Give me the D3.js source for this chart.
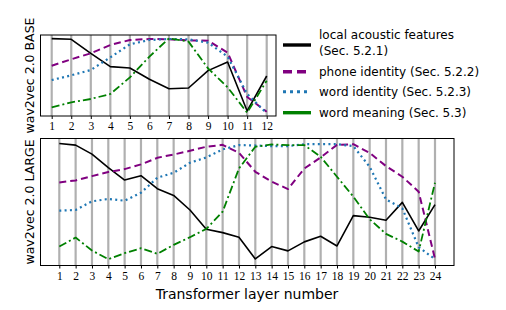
<!DOCTYPE html>
<html>
<head>
<meta charset="utf-8">
<script src="https://cdn.jsdelivr.net/npm/d3@7"></script>
<style>
  body { margin: 0; background: #fff; }
  .tick text { font-family: "Liberation Serif", "DejaVu Serif", serif; font-size: 11.5px; fill: #000; }
  .lab { font-family: "DejaVu Sans", sans-serif; fill: #000; }
</style>
</head>
<body>
<div id="chart"></div>
<script>
// layers
var baseLayers = d3.range(1, 13);
var largeLayers = d3.range(1, 25);

// BASE model (normalized scores)
var baseAcoustic = [0.955, 0.947, 0.774, 0.609, 0.593, 0.453, 0.337, 0.346, 0.560, 0.667, 0.062, 0.494];
var basePhone    = [0.621, 0.700, 0.774, 0.877, 0.938, 0.951, 0.947, 0.934, 0.930, 0.782, 0.235, 0.053];
var baseWord     = [0.444, 0.502, 0.568, 0.724, 0.885, 0.938, 0.951, 0.947, 0.905, 0.733, 0.272, 0.033];
var baseMeaning  = [0.107, 0.169, 0.210, 0.272, 0.477, 0.733, 0.959, 0.918, 0.588, 0.354, 0.041, 0.436];

// LARGE model
var largeAcoustic = [0.961, 0.948, 0.877, 0.770, 0.673, 0.707, 0.605, 0.552, 0.437, 0.285, 0.259, 0.223,
                     0.052, 0.149, 0.115, 0.186, 0.230, 0.154, 0.393, 0.380, 0.356, 0.497, 0.272, 0.479];
var largePhone    = [0.654, 0.670, 0.704, 0.736, 0.759, 0.796, 0.848, 0.874, 0.903, 0.935, 0.950, 0.887,
                     0.738, 0.660, 0.602, 0.764, 0.851, 0.950, 0.955, 0.887, 0.783, 0.699, 0.581, 0.052];
var largeWord     = [0.432, 0.437, 0.505, 0.524, 0.510, 0.573, 0.691, 0.730, 0.809, 0.851, 0.914, 0.948,
                     0.945, 0.940, 0.940, 0.955, 0.955, 0.955, 0.940, 0.777, 0.521, 0.450, 0.144, 0.050];
var largeMeaning  = [0.149, 0.220, 0.118, 0.050, 0.097, 0.136, 0.092, 0.162, 0.223, 0.288, 0.424, 0.764,
                     0.935, 0.953, 0.948, 0.948, 0.856, 0.699, 0.542, 0.364, 0.249, 0.188, 0.110, 0.652];

var seriesNames = ["local acoustic features", "phone identity (Sec. 5.2.2)",
                   "word identity (Sec. 5.2.3)", "word meaning (Sec. 5.3)"];

var styles = [
  { color: "#000000", width: 1.6, dash: null },
  { color: "#800080", width: 2.0, dash: "7,4" },
  { color: "#1f77b4", width: 2.2, dash: "2,3.3" },
  { color: "#008000", width: 1.8, dash: "8,3,2,3" }
];

var svg = d3.select("#chart").append("svg")
    .attr("width", 506)
    .attr("height", 310);

function drawPanel(layers, data, box, ylabel) {
  var x = d3.scaleLinear()
      .domain([1, layers.length])
      .range([box.x0, box.x1]);
  var y = d3.scaleLinear()
      .domain([0, 1])
      .range([box.bottom, box.top]);

  var g = svg.append("g");

  // grey layer lines
  g.selectAll(".vline")
      .data(layers)
      .enter().append("line")
      .attr("x1", function(d) { return x(d); })
      .attr("x2", function(d) { return x(d); })
      .attr("y1", box.bottom)
      .attr("y2", box.top)
      .attr("stroke", "#b0b0b0")
      .attr("stroke-width", 2.2);

  var line = d3.line()
      .x(function(d, i) { return x(layers[i]); })
      .y(function(d) { return y(d); });

  data.forEach(function(vals, k) {
    g.append("path")
        .datum(vals)
        .attr("d", line)
        .attr("fill", "none")
        .attr("stroke", styles[k].color)
        .attr("stroke-width", styles[k].width)
        .attr("stroke-dasharray", styles[k].dash)
        .attr("stroke-linejoin", "round");
  });

  // frame
  g.append("rect")
      .attr("x", box.left)
      .attr("y", box.top)
      .attr("width", box.right - box.left)
      .attr("height", box.bottom - box.top)
      .attr("fill", "none")
      .attr("stroke", "#000")
      .attr("stroke-width", 1);

  var xAxis = d3.axisBottom(x)
      .tickValues(layers)
      .tickFormat(d3.format("d"))
      .tickSizeInner(3)
      .tickSizeOuter(0);

  var ax = g.append("g")
      .attr("transform", "translate(0," + box.bottom + ")")
      .call(xAxis);
  ax.select(".domain").remove();
  ax.selectAll(".tick line").attr("stroke", "#000");

  g.append("text")
      .attr("class", "lab")
      .attr("transform", "translate(" + 34 + "," + ((box.top + box.bottom) / 2) + ") rotate(-90)")
      .attr("text-anchor", "middle")
      .attr("font-size", 12.5)
      .text(ylabel);
}

drawPanel(baseLayers, [baseAcoustic, basePhone, baseWord, baseMeaning],
  { left: 40.5, right: 276, top: 35, bottom: 116, x0: 51.7, x1: 266.7 }, "wav2vec 2.0 BASE");

drawPanel(largeLayers, [largeAcoustic, largePhone, largeWord, largeMeaning],
  { left: 40.5, right: 454, top: 138.5, bottom: 265.5, x0: 59.3, x1: 435 }, "wav2vec 2.0 LARGE");

svg.append("text")
    .attr("class", "lab")
    .attr("x", 247)
    .attr("y", 299)
    .attr("text-anchor", "middle")
    .attr("font-size", 14)
    .text("Transformer layer number");

// legend
var legendY = [45, 71.7, 91.7, 112.7];
var legend = svg.selectAll(".legend")
    .data(seriesNames)
    .enter().append("g")
    .attr("class", "legend")
    .attr("transform", function(d, i) { return "translate(283," + legendY[i] + ")"; });

legend.append("line")
    .attr("x1", 0)
    .attr("x2", 28)
    .attr("stroke", function(d, i) { return styles[i].color; })
    .attr("stroke-width", function(d, i) { return i == 2 ? 3 : 3.4; })
    .attr("stroke-dasharray", function(d, i) { return i == 1 ? "9,5" : (i == 2 ? "3,4" : null); });

legend.append("text")
    .attr("class", "lab")
    .attr("x", 36)
    .attr("y", function(d, i) { return i == 0 ? -10 : 0; })
    .attr("dy", "0.35em")
    .attr("font-size", 12)
    .text(function(d) { return d; });

svg.append("text")
    .attr("class", "lab")
    .attr("x", 319)
    .attr("y", 50.7)
    .attr("dy", "0.35em")
    .attr("font-size", 12)
    .text("(Sec. 5.2.1)");
</script>
</body>
</html>
